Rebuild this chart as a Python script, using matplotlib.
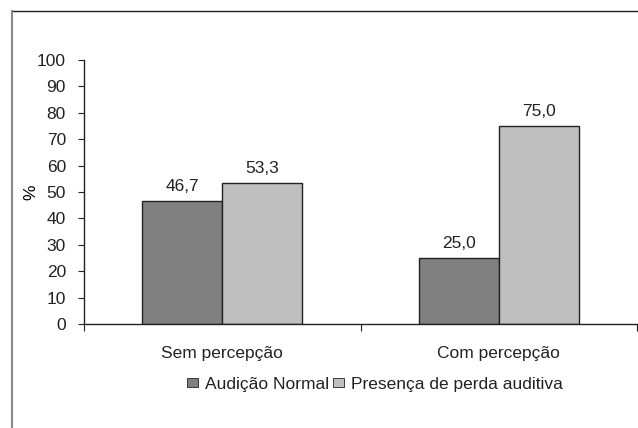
import matplotlib
matplotlib.use("Agg")
import matplotlib.pyplot as plt
import numpy as np
from matplotlib.patches import Patch
from matplotlib.lines import Line2D

categories = ["Sem percepção", "Com percepção"]
series_names = ["Audição Normal", "Presença de perda auditiva"]
normal = [46.7, 25.0]
perda = [53.3, 75.0]
yticks = [0, 10, 20, 30, 40, 50, 60, 70, 80, 90, 100]

DARK = "#808080"
LIGHT = "#bfbfbf"
EDGE = "#222222"
TXT = "#222222"

plt.rcParams["font.family"] = ["Liberation Sans", "DejaVu Sans"]
plt.rcParams["font.size"] = 12.5
plt.rcParams["text.color"] = TXT
plt.rcParams["xtick.color"] = TXT
plt.rcParams["ytick.color"] = TXT

fig = plt.figure(figsize=(6.38, 4.28), dpi=100)
ax = fig.add_axes([84 / 638, 1 - 324 / 428, (637 - 84) / 638, (324 - 60) / 428])

x = np.arange(len(categories))
w = 0.29
b1 = ax.bar(x - w / 2, normal, w, color=DARK, edgecolor=EDGE, linewidth=1)
b2 = ax.bar(x + w / 2, perda, w, color=LIGHT, edgecolor=EDGE, linewidth=1)

for bars, vals in ((b1, normal), (b2, perda)):
    for r, v in zip(bars, vals):
        ax.annotate(f"{v:.1f}".replace(".", ","),
                    (r.get_x() + r.get_width() / 2, r.get_height()),
                    xytext=(0, 5), textcoords="offset points",
                    ha="center", va="bottom")

ax.set_xlim(-0.5, len(categories) - 0.5)
ax.set_ylim(0, 100)
ax.set_yticks(yticks)
ax.set_xticks(np.arange(-0.5, len(categories)))
ax.set_xticklabels([])
ax.set_xticks(x, minor=True)
ax.set_xticklabels(categories, minor=True)
ax.tick_params(axis="x", which="minor", length=0, pad=16)
ax.tick_params(axis="x", which="major", length=5, direction="out")
ax.tick_params(axis="y", length=4, direction="out", pad=9)

for s in ("top", "right"):
    ax.spines[s].set_visible(False)
for s in ("left", "bottom"):
    ax.spines[s].set_color(EDGE)
    ax.spines[s].set_linewidth(1)

ax.set_ylabel("%", labelpad=-1)

handles = [Patch(facecolor=DARK, edgecolor=EDGE, linewidth=0.6),
           Patch(facecolor=LIGHT, edgecolor=EDGE, linewidth=0.6)]
fig.legend(handles, series_names, loc="center", bbox_to_anchor=(375 / 638, 1 - 384 / 428),
           ncol=2, frameon=False, handlelength=0.65, handleheight=0.45,
           handletextpad=0.4, columnspacing=0.2, borderaxespad=0, borderpad=0)

# outer frame (top and left edges of the original image)
fig.add_artist(Line2D([12 / 638, 1], [1 - 11 / 428, 1 - 11 / 428],
                      transform=fig.transFigure, color=EDGE, linewidth=1))
fig.add_artist(Line2D([12 / 638, 12 / 638], [0, 1 - 11 / 428],
                      transform=fig.transFigure, color="#888888", linewidth=1.5))

fig.savefig("out.png", dpi=100)
